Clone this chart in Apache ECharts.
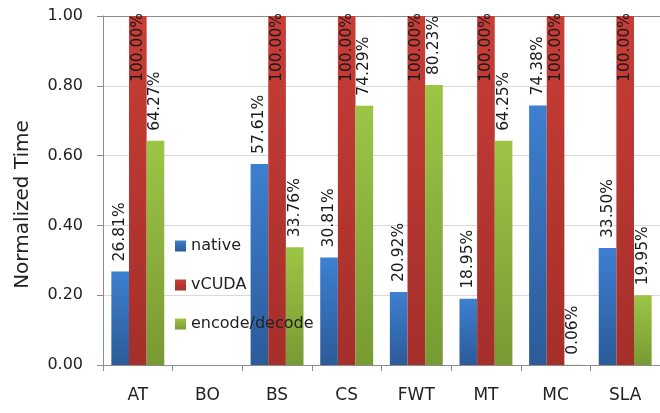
<!DOCTYPE html>
<html>
<head>
<meta charset="utf-8">
<script src="https://cdn.jsdelivr.net/npm/echarts@6/dist/echarts.min.js"></script>
<style>
  html, body { margin: 0; padding: 0; background: #fff; }
  #chart { width: 660px; height: 413px; }
</style>
</head>
<body>
<div id="chart"></div>
<script>
// benchmarks
const categories = ['AT', 'BO', 'BS', 'CS', 'FWT', 'MT', 'MC', 'SLA'];
// normalized times (fraction of vCUDA)
const nativeVals = [0.2681, null, 0.5761, 0.3081, 0.2092, 0.1895, 0.7438, 0.3350];
const vcudaVals = [1.0, null, 1.0, 1.0, 1.0, 1.0, 1.0, 1.0];
const encodeVals = [0.6427, null, 0.3376, 0.7429, 0.8023, 0.6425, 0.0006, 0.1995];

const font = 'DejaVu Sans';

const grad = (top, bottom) => new echarts.graphic.LinearGradient(0, 0, 0, 1, [
    { offset: 0, color: top },
    { offset: 1, color: bottom }
]);

const pct = p => (p.value * 100).toFixed(2) + '%';

// label sitting above the bar, reading bottom to top
const aboveLabel = {
    show: true,
    position: 'top',
    rotate: 90,
    align: 'left',
    verticalAlign: 'middle',
    distance: 10,
    formatter: pct,
    fontFamily: font,
    fontSize: 15.5,
    color: '#1a1a1a'
};

const chart = echarts.init(document.getElementById('chart'));

const option = {
    animation: false,
    grid: { left: 103, top: 16, width: 560, height: 349 },
    legend: {
        orient: 'vertical',
        left: 170,
        top: 233,
        itemWidth: 11,
        itemHeight: 11,
        itemGap: 23,
        icon: 'rect',
        textStyle: { fontFamily: font, fontSize: 16, color: '#222' },
        data: ['native', 'vCUDA', 'encode/decode']
    },
    xAxis: {
        type: 'category',
        data: categories,
        axisLine: { lineStyle: { color: '#8c8c8c', width: 1 } },
        axisTick: { show: true, length: 6, lineStyle: { color: '#8c8c8c' } },
        axisLabel: { fontFamily: font, fontSize: 17, color: '#222', margin: 22 }
    },
    yAxis: {
        type: 'value',
        min: 0,
        max: 1,
        interval: 0.2,
        name: 'Normalized Time',
        nameLocation: 'middle',
        nameGap: 70,
        nameTextStyle: { fontFamily: font, fontSize: 20, color: '#222', padding: [0, 28, 0, 0] },
        axisLine: { show: true, lineStyle: { color: '#8c8c8c' } },
        axisTick: { show: true, length: 6, lineStyle: { color: '#8c8c8c' } },
        axisLabel: { fontFamily: font, fontSize: 16, color: '#222', margin: 20, formatter: v => v.toFixed(2) },
        splitLine: { lineStyle: { color: ['#d9d9d9', '#d9d9d9', '#d9d9d9', '#d9d9d9', '#d9d9d9', '#8c8c8c'] } }
    },
    series: [
        {
            name: 'native',
            type: 'bar',
            data: nativeVals,
            barGap: '0%',
            barCategoryGap: '24%',
            itemStyle: { color: grad('#3d7fd1', '#2c5b98') },
            label: aboveLabel
        },
        {
            name: 'vCUDA',
            type: 'bar',
            data: vcudaVals,
            itemStyle: { color: grad('#c93d37', '#a52f2a') },
            label: {
                show: true,
                position: 'insideTop',
                rotate: 90,
                align: 'right',
                verticalAlign: 'middle',
                distance: -3,
                formatter: pct,
                fontFamily: font,
                fontSize: 15.5,
                color: '#1a1a1a'
            }
        },
        {
            name: 'encode/decode',
            type: 'bar',
            data: encodeVals,
            itemStyle: { color: grad('#9cc546', '#789a33') },
            label: aboveLabel
        }
    ]
};

chart.setOption(option);
</script>
</body>
</html>
